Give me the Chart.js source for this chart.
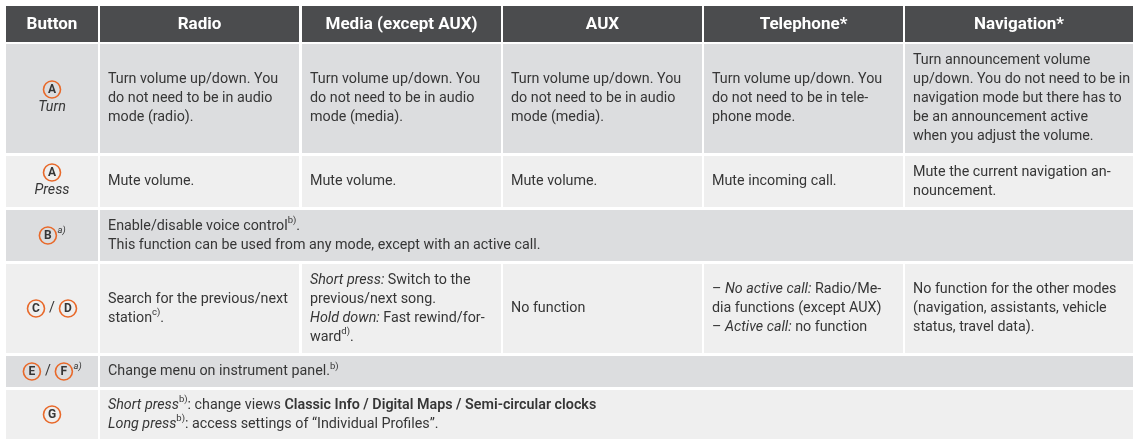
<!DOCTYPE html>
<html lang="en">
<head>
  <meta charset="UTF-8" />
  <title>Multifunction steering wheel buttons</title>
  <script src="https://cdn.jsdelivr.net/npm/chart.js"></script>
  <style>
    body { margin: 0; background: #ffffff; }
    #table { display: block; }
  </style>
</head>
<body>
  <canvas id="table" width="1135" height="439"></canvas>

  <script>
    // Table content. Runs: t = text, i = italic, b = bold, sup = superscript, c = circled button letter
    const headers = ['Button', 'Radio', 'Media (except AUX)', 'AUX', 'Telephone*', 'Navigation*'];

    const buttons = [
      [[{ c: 'A' }], [{ t: 'Turn', i: true }]],
      [[{ c: 'A' }], [{ t: 'Press', i: true }]],
      [[{ c: 'B' }, { t: 'a)', sup: true, i: true }]],
      [[{ c: 'C' }, { t: ' / ' }, { c: 'D' }]],
      [[{ c: 'E' }, { t: ' / ' }, { c: 'F' }, { t: 'a)', sup: true, i: true }]],
      [[{ c: 'G' }]]
    ];

    const turnCells = [
      ['Turn volume up/down. You', 'do not need to be in audio', 'mode (radio).'],
      ['Turn volume up/down. You', 'do not need to be in audio', 'mode (media).'],
      ['Turn volume up/down. You', 'do not need to be in audio', 'mode (media).'],
      ['Turn volume up/down. You', 'do not need to be in tele-', 'phone mode.'],
      ['Turn announcement volume', 'up/down. You do not need to be in', 'navigation mode but there has to', 'be an announcement active', 'when you adjust the volume.']
    ];

    const pressCells = [
      ['Mute volume.'],
      ['Mute volume.'],
      ['Mute volume.'],
      ['Mute incoming call.'],
      ['Mute the current navigation an-', 'nouncement.']
    ];

    const voiceCell = [
      [{ t: 'Enable/disable voice control' }, { t: 'b)', sup: true }, { t: '.' }],
      'This function can be used from any mode, except with an active call.'
    ];

    const skipCells = [
      ['Search for the previous/next', [{ t: 'station' }, { t: 'c)', sup: true }, { t: '.' }]],
      [
        [{ t: 'Short press:', i: true }, { t: ' Switch to the' }],
        'previous/next song.',
        [{ t: 'Hold down:', i: true }, { t: ' Fast rewind/for-' }],
        [{ t: 'ward' }, { t: 'd)', sup: true }, { t: '.' }]
      ],
      ['No function'],
      [
        [{ t: '– ' }, { t: 'No active call:', i: true }, { t: ' Radio/Me-' }],
        'dia functions (except AUX)',
        [{ t: '– ' }, { t: 'Active call:', i: true }, { t: ' no function' }]
      ],
      ['No function for the other modes', '(navigation, assistants, vehicle', 'status, travel data).']
    ];

    const menuCell = [
      [{ t: 'Change menu on instrument panel.' }, { t: 'b)', sup: true }]
    ];

    const viewCell = [
      [{ t: 'Short press', i: true }, { t: 'b)', sup: true }, { t: ': change views ' }, { t: 'Classic Info / Digital Maps / Semi-circular clocks', b: true }],
      [{ t: 'Long press', i: true }, { t: 'b)', sup: true }, { t: ': access settings of “Individual Profiles”.' }]
    ];

    // rows: each either 5 separate cells or one spanning cell
    const rows = [turnCells, pressCells, { span: voiceCell }, skipCells, { span: menuCell }, { span: viewCell }];

    // Layout (table units = pixels of the 1135x439 frame)
    const colEdges = [6, 98, 100, 299, 302, 501, 503, 702, 704, 903, 905, 1133];
    const rowEdges = [6, 42, 44, 153, 156, 207, 210, 261, 264, 353, 356, 387, 390, 439];
    const FONT = 'Roboto, "Noto Sans", sans-serif';
    const BODY_SIZE = 14.3;
    const HEADER_BG = '#4b4c4e';
    const DARK_BG = '#dcdddf';
    const LIGHT_BG = '#efefef';
    const TEXT = '#363636';
    const ORANGE = '#e8692a';

    function font(run, size) {
      return (run.i ? 'italic ' : '') + (run.b ? '600 ' : '400 ') + size + 'px ' + FONT;
    }

    function runWidth(ctx, run) {
      if (run.c) return 19;
      ctx.font = font(run, run.sup ? 9.5 : BODY_SIZE);
      return ctx.measureText(run.t).width;
    }

    function drawLine(ctx, line, x, y, center) {
      const runs = typeof line === 'string' ? [{ t: line }] : line;
      let total = 0;
      runs.forEach(r => { total += runWidth(ctx, r); });
      let cx = center ? x - total / 2 : x;
      runs.forEach(r => {
        const w = runWidth(ctx, r);
        if (r.c) {
          ctx.beginPath();
          ctx.arc(cx + w / 2, y, 8.5, 0, Math.PI * 2);
          ctx.strokeStyle = ORANGE;
          ctx.lineWidth = 1.6;
          ctx.stroke();
          ctx.fillStyle = TEXT;
          ctx.font = '700 12px ' + FONT;
          ctx.textAlign = 'center';
          ctx.fillText(r.c, cx + w / 2, y + 0.5);
          ctx.textAlign = 'left';
        } else {
          ctx.fillStyle = TEXT;
          ctx.font = font(r, r.sup ? 9.5 : BODY_SIZE);
          ctx.fillText(r.t, cx, r.sup ? y - 5 : y);
        }
        cx += w;
      });
    }

    function drawBlock(ctx, lines, x, top, bottom, lh, center) {
      const mid = (top + bottom) / 2;
      const start = mid - (lines.length - 1) * lh / 2;
      lines.forEach((ln, k) => drawLine(ctx, ln, x, start + k * lh, center));
    }

    const tablePlugin = {
      id: 'tablePlugin',
      afterDraw(chart) {
        const ctx = chart.ctx;
        const xs = chart.scales.x, ys = chart.scales.y;
        const px = v => xs.getPixelForValue(v);
        const py = v => ys.getPixelForValue(v);
        ctx.save();
        ctx.textBaseline = 'middle';

        // header
        headers.forEach((h, c) => {
          const x0 = px(colEdges[c * 2]), x1 = px(colEdges[c * 2 + 1]);
          const y0 = py(rowEdges[0]), y1 = py(rowEdges[1]);
          ctx.fillStyle = HEADER_BG;
          ctx.fillRect(x0, y0, x1 - x0, y1 - y0);
          ctx.fillStyle = '#ffffff';
          ctx.font = '700 17px ' + FONT;
          ctx.textAlign = 'center';
          ctx.fillText(h, (x0 + x1) / 2, (y0 + y1) / 2 + 1);
        });
        ctx.textAlign = 'left';

        rows.forEach((row, r) => {
          const y0 = py(rowEdges[2 + r * 2]), y1 = py(rowEdges[3 + r * 2]);
          const bg = r % 2 === 0 ? DARK_BG : LIGHT_BG;
          // button cell
          const bx0 = px(colEdges[0]), bx1 = px(colEdges[1]);
          ctx.fillStyle = bg;
          ctx.fillRect(bx0, y0, bx1 - bx0, y1 - y0);
          drawBlock(ctx, buttons[r], (bx0 + bx1) / 2, y0, y1, 18, true);

          if (row.span) {
            const x0 = px(colEdges[2]), x1 = px(colEdges[11]);
            ctx.fillStyle = bg;
            ctx.fillRect(x0, y0, x1 - x0, y1 - y0);
            drawBlock(ctx, row.span, x0 + 8, y0, y1, 19, false);
          } else {
            row.forEach((cell, c) => {
              const x0 = px(colEdges[2 + c * 2]), x1 = px(colEdges[3 + c * 2]);
              ctx.fillStyle = bg;
              ctx.fillRect(x0, y0, x1 - x0, y1 - y0);
              drawBlock(ctx, cell, x0 + 8, y0, y1, 19, false);
            });
          }
        });
        ctx.restore();
      }
    };

    new Chart(document.getElementById('table'), {
      type: 'scatter',
      data: { datasets: [{ data: [] }] },
      options: {
        responsive: false,
        animation: false,
        devicePixelRatio: 1,
        layout: { padding: 0 },
        plugins: { legend: { display: false }, tooltip: { enabled: false } },
        scales: {
          x: { type: 'linear', display: false, min: 0, max: 1135 },
          y: { type: 'linear', display: false, min: 0, max: 439, reverse: true }
        }
      },
      plugins: [tablePlugin]
    });
  </script>
</body>
</html>
